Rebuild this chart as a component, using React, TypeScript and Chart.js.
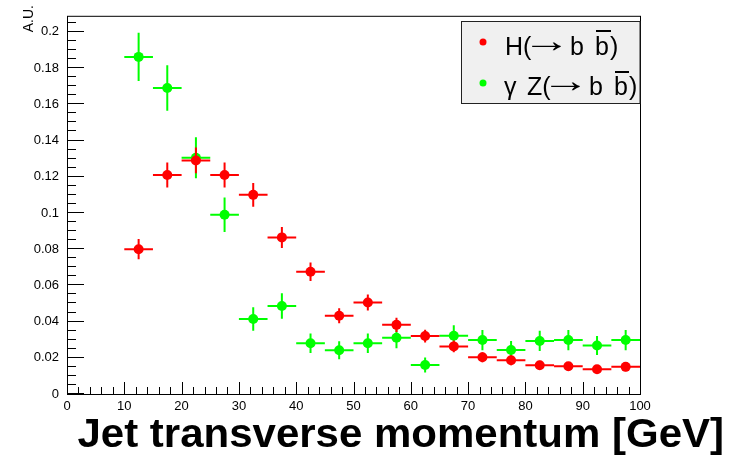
import React, { useEffect, useRef } from "react";
import { Chart, registerables } from "chart.js";

Chart.register(...registerables);

// Bin centres of the jet pT histogram (5 GeV bins from 10 to 100 GeV)
const binCenters = [12.5, 17.5, 22.5, 27.5, 32.5, 37.5, 42.5, 47.5, 52.5, 57.5, 62.5, 67.5, 72.5, 77.5, 82.5, 87.5, 92.5, 97.5];
const binHalfWidth = 2.5;

// H(-> b bbar), normalised
const higgsValues = [0.080, 0.121, 0.129, 0.121, 0.110, 0.0865, 0.0675, 0.0432, 0.0505, 0.0382, 0.0320, 0.0263, 0.0203, 0.0186, 0.0159, 0.0153, 0.0137, 0.0150];
const higgsErrors = [0.0056, 0.0069, 0.0071, 0.0069, 0.0066, 0.0058, 0.0051, 0.0041, 0.0044, 0.0039, 0.0035, 0.0032, 0.0028, 0.0027, 0.0025, 0.0024, 0.0023, 0.0024];

// gamma Z(-> b bbar), normalised
const gammaZValues = [0.1862, 0.1690, 0.1305, 0.0990, 0.0414, 0.0486, 0.0280, 0.0242, 0.0280, 0.0311, 0.0160, 0.0322, 0.0298, 0.0243, 0.0293, 0.0298, 0.0268, 0.0298];
const gammaZErrors = [0.0133, 0.0126, 0.0113, 0.0095, 0.0065, 0.0070, 0.0054, 0.0050, 0.0054, 0.0058, 0.0041, 0.0058, 0.0056, 0.0050, 0.0056, 0.0056, 0.0053, 0.0056];

const xTickValues = [0, 10, 20, 30, 40, 50, 60, 70, 80, 90, 100];
const xTickLabels = ["0", "10", "20", "30", "40", "50", "60", "70", "80", "90", "100"];
const yTickValues = [0, 0.02, 0.04, 0.06, 0.08, 0.1, 0.12, 0.14, 0.16, 0.18, 0.2];
const yTickLabels = ["0", "0.02", "0.04", "0.06", "0.08", "0.1", "0.12", "0.14", "0.16", "0.18", "0.2"];

const xMin = 0;
const xMax = 100;
const yMin = 0;
const yMax = 0.2089;

const RED = "#ff0000";
const GREEN = "#00ff00";
const FONT = "'Liberation Sans', Arial, Helvetica, sans-serif";

const seriesErrors = [higgsErrors, gammaZErrors];

const errorBarPlugin = {
  id: "errorBars",
  beforeDatasetDraw(chart: any, args: any) {
    const { ctx, scales } = chart;
    const ds = chart.data.datasets[args.index];
    const errs = seriesErrors[args.index];
    ctx.save();
    ctx.strokeStyle = ds.borderColor;
    ctx.lineWidth = 2;
    ds.data.forEach((p: any, i: number) => {
      const px = scales.x.getPixelForValue(p.x);
      const py = scales.y.getPixelForValue(p.y);
      const x0 = scales.x.getPixelForValue(p.x - binHalfWidth);
      const x1 = scales.x.getPixelForValue(p.x + binHalfWidth);
      const y0 = scales.y.getPixelForValue(p.y - errs[i]);
      const y1 = scales.y.getPixelForValue(p.y + errs[i]);
      ctx.beginPath();
      ctx.moveTo(x0, py);
      ctx.lineTo(x1, py);
      ctx.moveTo(px, y0);
      ctx.lineTo(px, y1);
      ctx.stroke();
    });
    ctx.restore();
  },
};

const framePlugin = {
  id: "rootFrame",
  beforeDatasetsDraw(chart: any) {
    const { ctx, chartArea: a, scales } = chart;
    ctx.save();
    ctx.strokeStyle = "#000";
    ctx.lineWidth = 1;
    ctx.beginPath();
    // y-axis ticks: major every 0.02, minor every 0.005, drawn inward
    for (let k = 0; k * 0.005 <= yMax + 1e-9; k++) {
      const v = k * 0.005;
      const y = Math.round(scales.y.getPixelForValue(v)) - 0.5;
      const len = k % 4 === 0 ? 17 : 9;
      ctx.moveTo(a.left, y);
      ctx.lineTo(a.left + len, y);
    }
    // x-axis ticks: major every 10, minor every 2
    for (let k = 0; k * 2 <= xMax; k++) {
      const v = k * 2;
      const x = Math.round(scales.x.getPixelForValue(v)) + 0.5;
      const len = k % 5 === 0 ? 12 : 7;
      ctx.moveTo(x, a.bottom);
      ctx.lineTo(x, a.bottom - len);
    }
    ctx.stroke();
    ctx.strokeRect(a.left + 0.5, a.top + 0.5, a.right - a.left, a.bottom - a.top);
    ctx.restore();
  },
  afterDraw(chart: any) {
    const { ctx } = chart;
    ctx.save();
    ctx.fillStyle = "#000";

    // x-axis title
    ctx.save();
    ctx.font = `bold 40px ${FONT}`;
    ctx.textAlign = "right";
    ctx.textBaseline = "alphabetic";
    ctx.translate(724, 447);
    ctx.scale(1.05, 1);
    ctx.fillText("Jet transverse momentum [GeV]", 0, 0);
    ctx.restore();

    // y-axis title
    ctx.save();
    ctx.translate(33, 5);
    ctx.rotate(-Math.PI / 2);
    ctx.font = `14px ${FONT}`;
    ctx.textAlign = "right";
    ctx.fillText("A.U.", 0, 0);
    ctx.restore();

    // legend box
    ctx.fillStyle = "#f0f0f0";
    ctx.fillRect(461, 21, 179, 82);
    ctx.strokeStyle = "#222";
    ctx.lineWidth = 1;
    ctx.strokeRect(461.5, 21.5, 178.5, 82);

    // long thin arrow, its inked extent stretched to span [x0, x1], centred on cy
    const drawArrow = (x0: number, x1: number, cy: number) => {
      ctx.save();
      ctx.font = `25px ${FONT}`;
      ctx.textAlign = "left";
      ctx.textBaseline = "alphabetic";
      const m = ctx.measureText("\u2192");
      const inkL = -(m.actualBoundingBoxLeft || 0);
      const inkR = m.actualBoundingBoxRight || m.width;
      const inkW = Math.max(1, inkR - inkL);
      const asc = m.actualBoundingBoxAscent || 10;
      const desc = m.actualBoundingBoxDescent || -4;
      const sy = 1.35;
      const mid = ((asc - desc) / 2) * sy;
      const sx = (x1 - x0) / inkW;
      ctx.translate(x0 - inkL * sx, cy + mid);
      ctx.scale(sx, sy);
      ctx.fillText("\u2192", 0, 0);
      ctx.restore();
    };

    const drawEntry = (
      color: string,
      cy: number,
      base: number,
      parts: [string, number][],
      arrowFrom: number,
      arrowTo: number,
      barFrom: number,
      barTo: number,
      barY: number
    ) => {
      ctx.fillStyle = color;
      ctx.beginPath();
      ctx.arc(483, cy, 3.5, 0, Math.PI * 2);
      ctx.fill();
      ctx.fillStyle = "#000";
      ctx.font = `25px ${FONT}`;
      ctx.textAlign = "left";
      ctx.textBaseline = "alphabetic";
      parts.forEach(([t, x]) => ctx.fillText(t, x, base));
      drawArrow(arrowFrom, arrowTo, base - 9);
      ctx.fillRect(barFrom, barY, barTo - barFrom, 2);
    };
    drawEntry(RED, 42, 55, [["H(", 505], ["b", 570], ["b", 595], [")", 610]], 532, 561, 596, 611, 30);
    drawEntry(GREEN, 83, 95, [["\u03b3", 504], ["Z(", 527], ["b", 589], ["b", 614], [")", 629]], 551, 580, 615, 629, 71);

    ctx.restore();
  },
};

export default function App() {
  const canvasRef = useRef<HTMLCanvasElement | null>(null);

  useEffect(() => {
    if (!canvasRef.current) return;
    const chart = new Chart(canvasRef.current, {
      type: "scatter",
      data: {
        datasets: [
          {
            label: "H(\u2192 b b\u0305)",
            data: binCenters.map((x, i) => ({ x, y: higgsValues[i] })),
            borderColor: RED,
            backgroundColor: RED,
            pointRadius: 5,
            pointBorderWidth: 0,
          },
          {
            label: "\u03b3 Z(\u2192 b b\u0305)",
            data: binCenters.map((x, i) => ({ x, y: gammaZValues[i] })),
            borderColor: GREEN,
            backgroundColor: GREEN,
            pointRadius: 5,
            pointBorderWidth: 0,
          },
        ],
      },
      options: {
        animation: false,
        responsive: false,
        events: [],
        layout: { padding: { top: 6, right: 95, left: 0, bottom: 0 } },
        plugins: { legend: { display: false }, tooltip: { enabled: false } },
        scales: {
          x: {
            type: "linear",
            min: xMin,
            max: xMax,
            grid: { display: false, drawTicks: false },
            border: { display: false },
            afterBuildTicks: (s: any) => {
              s.ticks = xTickValues.map((v) => ({ value: v }));
            },
            afterFit: (s: any) => {
              s.height = 61;
            },
            ticks: {
              padding: 5,
              maxRotation: 0,
              autoSkip: false,
              color: "#000",
              font: { family: FONT, size: 13 },
              callback: (_v: any, i: number) => xTickLabels[i],
            },
          },
          y: {
            type: "linear",
            min: yMin,
            max: yMax,
            grid: { display: false, drawTicks: false },
            border: { display: false },
            afterBuildTicks: (s: any) => {
              s.ticks = yTickValues.map((v) => ({ value: v }));
            },
            afterFit: (s: any) => {
              s.width = 67;
            },
            ticks: {
              padding: 8,
              autoSkip: false,
              color: "#000",
              font: { family: FONT, size: 13 },
              callback: (_v: any, i: number) => yTickLabels[i],
            },
          },
        },
      },
      plugins: [errorBarPlugin, framePlugin],
    });
    return () => chart.destroy();
  }, []);

  return (
    <div style={{ position: "absolute", left: 0, top: 0, width: 735, height: 455, background: "#fff" }}>
      <canvas ref={canvasRef} width={735} height={455} style={{ display: "block" }} />
    </div>
  );
}
